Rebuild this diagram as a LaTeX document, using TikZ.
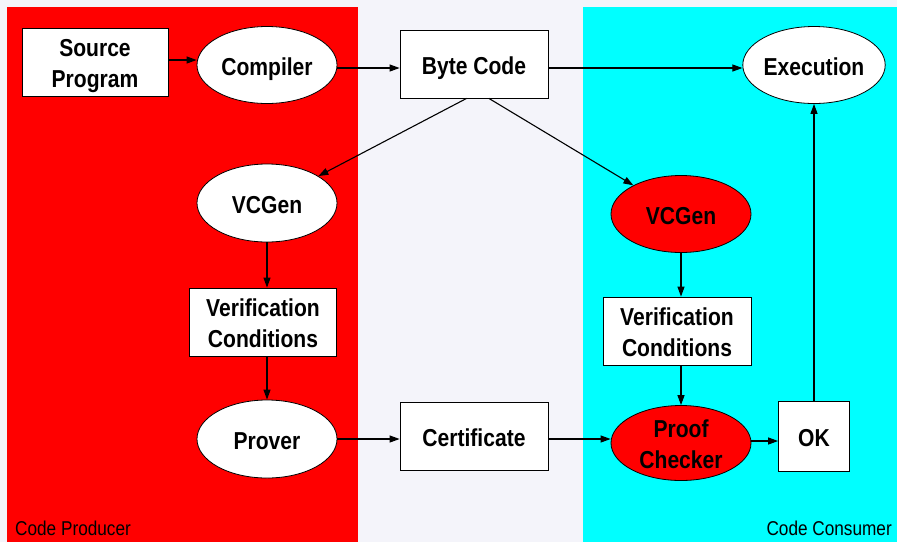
\documentclass[tikz,border=0pt]{standalone}
\usepackage{fontspec}
\setmainfont{Liberation Sans}
\newfontfamily\nodefont[FakeStretch=0.86]{Liberation Sans}
\newfontfamily\panelfont[FakeStretch=0.86]{Liberation Sans}
\usetikzlibrary{shapes.geometric,arrows.meta,calc}
\definecolor{bgcol}{HTML}{F4F4FA}
\definecolor{redpanel}{HTML}{FF0000}
\definecolor{cyanpanel}{HTML}{00FFFF}
\newcommand{\lowtxt}[1]{\raisebox{-4pt}[\height][\depth]{\begin{tabular}{@{}c@{}}#1\end{tabular}}}
\tikzset{
  lbl/.style={font=\nodefont\fontsize{24.5}{31}\selectfont\bfseries, text=black},
  boxnode/.style={lbl, draw=black, line width=0.8pt, fill=white, rectangle, inner sep=0pt},
  ellnode/.style={lbl, draw=black, line width=0.8pt, fill=white, ellipse, inner sep=0pt, minimum width=140pt, minimum height=77pt},
  redell/.style={ellnode, fill=redpanel},
  conn/.style={draw=black, line width=1.1pt, -{Triangle[length=10pt,width=7pt]}},
  paneltxt/.style={font=\panelfont\fontsize{20}{24}\selectfont, text=black, inner sep=0pt}
}
\begin{document}
\begin{tikzpicture}[x=1pt,y=-1pt]
\useasboundingbox (0,0) rectangle (897,542);
\fill[bgcol] (0,0) rectangle (897,542);
\fill[redpanel] (7,7) rectangle (358,542);
\fill[cyanpanel] (583,7) rectangle (897,542);

\node[paneltxt, anchor=base west] (prodlbl) at (15,535) {Code Producer};
\node[paneltxt, anchor=base east] (conslbl) at (892,535) {Code Consumer};

\node[boxnode, minimum width=146pt, minimum height=68pt] (src) at (95,62) {\lowtxt{Source\\Program}};
\node[ellnode] (comp) at (267,65) {\lowtxt{Compiler}};
\node[boxnode, minimum width=148pt, minimum height=68pt] (bc) at (474,64) {\lowtxt{Byte Code}};
\node[ellnode, minimum width=141pt] (exe) at (814,65) {\lowtxt{Execution}};

\node[ellnode, minimum height=78pt] (vl) at (267,203) {\lowtxt{VCGen}};
\node[boxnode, minimum width=147pt, minimum height=68pt] (vcl) at (263,322) {\lowtxt{Verification\\Conditions}};
\node[ellnode, minimum height=78pt] (prov) at (267,439) {\lowtxt{Prover}};
\node[boxnode, minimum width=148pt, minimum height=68pt] (cert) at (474,436) {\lowtxt{Certificate}};

\node[redell] (vr) at (681,214) {\lowtxt{VCGen}};
\node[boxnode, minimum width=148pt, minimum height=68pt] (vcr) at (677,331) {\lowtxt{Verification\\Conditions}};
\node[redell, minimum height=75pt, inner sep=-15pt] (pc) at (681,443) {\lowtxt{Proof\\Checker}};
\node[boxnode, minimum width=71pt, minimum height=70pt] (ok) at (814,436) {\lowtxt{OK}};

\draw[conn] (src.east |- 0,60) -- (comp.west |- 0,60);
\draw[conn] (comp.east |- 0,68) -- (bc.west |- 0,68);
\draw[conn] (bc.east |- 0,68) -- (exe.west |- 0,68);
\draw[conn] ($(bc.south west)!0.45!(bc.south east)$) -- (vl);
\draw[conn] ($(bc.south west)!0.6!(bc.south east)$) -- (vr);
\draw[conn] (vl.south) -- (vl.south |- vcl.north);
\draw[conn] (vl.south |- vcl.south) -- (prov.north);
\draw[conn] (prov.east |- 0,439) -- (cert.west |- 0,439);
\draw[conn] (cert.east |- 0,439) -- (pc.west |- 0,439);
\draw[conn] (vr.south) -- (vr.south |- vcr.north);
\draw[conn] (vr.south |- vcr.south) -- (pc.north);
\draw[conn] (pc.east |- 0,441) -- (ok.west |- 0,441);
\draw[conn] (ok.north) -- (exe.south);
\end{tikzpicture}
\end{document}
